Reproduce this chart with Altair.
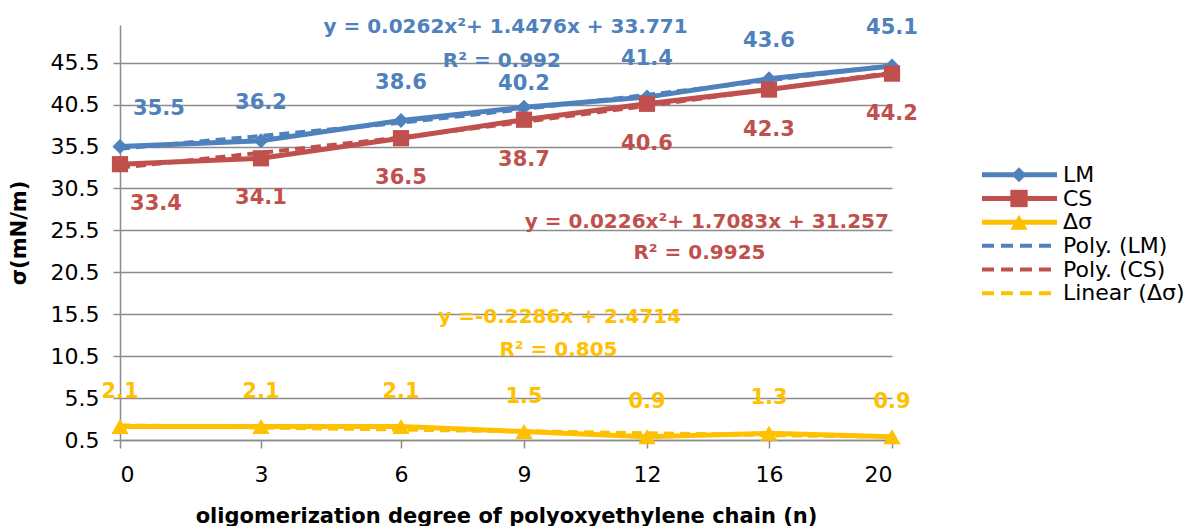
import altair as alt
import pandas as pd

# ---------------- data ----------------
categories = ["0", "3", "6", "9", "12", "16", "20"]
lm_values = [35.5, 36.2, 38.6, 40.2, 41.4, 43.6, 45.1]
cs_values = [33.4, 34.1, 36.5, 38.7, 40.6, 42.3, 44.2]
dsigma_values = [2.1, 2.1, 2.1, 1.5, 0.9, 1.3, 0.9]
series_names = ["LM", "CS", "Δσ"]
trend_names = ["Poly. (LM)", "Poly. (CS)", "Linear (Δσ)"]
equation_texts = [
    "y = 0.0262x²+ 1.4476x + 33.771", "R² = 0.992",
    "y = 0.0226x²+ 1.7083x + 31.257", "R² = 0.9925",
    "y =-0.2286x + 2.4714", "R² = 0.805",
]
equation_series = ["LM", "LM", "CS", "CS", "Δσ", "Δσ"]
y_ticks = [0.5, 5.5, 10.5, 15.5, 20.5, 25.5, 30.5, 35.5, 40.5, 45.5]

# ---------------- styles / layout ----------------
colors = ["#4F81BD", "#C0504D", "#FFC000"]
shapes = ["diamond", "square", "triangle-up"]
marker_sizes = [225, 300, 300]
grid_gray = "#8C8C8C"
FONT = "DejaVu Sans"
x_range_px = [0, 141, 281, 404, 527, 649, 772]
eq_pos_x = [2.85, 2.82, 4.49, 4.43, 3.29, 3.28]
eq_pos_y = [49.8, 45.74, 26.53, 22.83, 15.19, 11.25]

# ---------------- tables ----------------
rows = []
for name, vals in zip(series_names, [lm_values, cs_values, dsigma_values]):
    for i, (c, v) in enumerate(zip(categories, vals)):
        rows.append({"series": name, "idx": i, "cat": c, "value": v})
df = pd.DataFrame(rows)

eq_df = pd.DataFrame({"text": equation_texts, "series": equation_series,
                      "idx": eq_pos_x, "value": eq_pos_y})

label_expr = "[" + ",".join("'%s'" % c for c in categories) + "][datum.value]"

x_enc = alt.X(
    "idx:Q",
    scale=alt.Scale(domain=list(range(len(categories))), range=x_range_px, nice=False, zero=False),
    axis=alt.Axis(values=list(range(len(categories))), labelExpr=label_expr, grid=False,
                  tickSize=8, labelPadding=16, titlePadding=20),
    title="oligomerization degree of polyoxyethylene chain (n)",
)
y_enc = alt.Y(
    "value:Q",
    scale=alt.Scale(domain=[0.5, 50], nice=False, zero=False),
    axis=alt.Axis(values=y_ticks, format=".1f", grid=True, tickSize=7,
                  labelPadding=14, titlePadding=21),
    title="σ(mN/m)",
)
color_enc = alt.Color("series:N", scale=alt.Scale(domain=series_names, range=colors), legend=None)

base = alt.Chart(df)

lines = base.mark_line(strokeWidth=5).encode(x=x_enc, y=y_enc, color=color_enc, detail="series:N")

trend_poly = (
    base.transform_filter(alt.FieldOneOfPredicate(field="series", oneOf=["LM", "CS"]))
    .transform_regression("idx", "value", groupby=["series"], method="poly", order=2, extent=[0, 6])
    .mark_line(strokeWidth=4, strokeDash=[10, 6])
    .encode(x=x_enc, y=y_enc, color=color_enc, detail="series:N")
)
trend_lin = (
    base.transform_filter(alt.datum.series == "Δσ")
    .transform_regression("idx", "value", groupby=["series"], method="linear", extent=[0, 6])
    .mark_line(strokeWidth=4, strokeDash=[10, 6])
    .encode(x=x_enc, y=y_enc, color=color_enc, detail="series:N")
)

points = base.mark_point(filled=True, opacity=1).encode(
    x=x_enc, y=y_enc, color=color_enc,
    shape=alt.Shape("series:N", scale=alt.Scale(domain=series_names, range=shapes), legend=None),
    size=alt.Size("series:N", scale=alt.Scale(domain=series_names, range=marker_sizes), legend=None),
)


def value_labels(cond, dy, dx=0):
    return (
        base.transform_filter(cond)
        .mark_text(dy=dy, dx=dx, font=FONT, fontSize=21, fontWeight="bold")
        .encode(x=x_enc, y=y_enc, color=color_enc, text=alt.Text("value:Q", format=".1f"))
    )


is_lm = alt.datum.series == "LM"
is_cs = alt.datum.series == "CS"
is_ds = alt.datum.series == "Δσ"
label_layers = [
    value_labels(is_lm & (alt.datum.idx == 0), -38, 39),
    value_labels(is_lm & (alt.datum.idx == 3), -23),
    value_labels(is_lm & (alt.datum.idx != 0) & (alt.datum.idx != 3), -38),
    value_labels(is_cs & (alt.datum.idx == 0), 40, 36),
    value_labels(is_cs & (alt.datum.idx != 0), 40),
    value_labels(is_ds, -35),
]

eqs = alt.Chart(eq_df).mark_text(font=FONT, fontSize=20, fontWeight="bold").encode(
    x=x_enc, y=y_enc, color=color_enc, text="text:N"
)

main = alt.layer(lines, trend_poly, trend_lin, points, *label_layers, eqs).properties(
    width=772, height=415
)

# ---------------- legend ----------------
legend_labels = series_names + trend_names
leg_df = pd.DataFrame({
    "label": legend_labels,
    "color": colors + colors,
    "kind": ["solid"] * 3 + ["dash"] * 3,
    "shape": shapes + ["circle"] * 3,
    "size": marker_sizes + [0, 0, 0],
})
leg_y = alt.Y("label:N", scale=alt.Scale(domain=legend_labels, range=[138, 280], padding=0), axis=None)
leg_base = alt.Chart(leg_df)
leg_solid = leg_base.transform_filter(alt.datum.kind == "solid").mark_rule(strokeWidth=5).encode(
    x=alt.value(0), x2=alt.value(75), y=leg_y, color=alt.Color("color:N", scale=None)
)
leg_dash = leg_base.transform_filter(alt.datum.kind == "dash").mark_rule(
    strokeWidth=4, strokeDash=[12, 7]
).encode(x=alt.value(0), x2=alt.value(75), y=leg_y, color=alt.Color("color:N", scale=None))
leg_pts = leg_base.transform_filter(alt.datum.kind == "solid").mark_point(filled=True, opacity=1).encode(
    x=alt.value(37), y=leg_y, color=alt.Color("color:N", scale=None),
    shape=alt.Shape("shape:N", scale=None), size=alt.Size("size:Q", scale=None),
)
leg_txt = leg_base.mark_text(align="left", baseline="middle", font=FONT, fontSize=22, color="#000000").encode(
    x=alt.value(81), y=leg_y, text="label:N"
)
legend = alt.layer(leg_solid, leg_dash, leg_pts, leg_txt).properties(width=210, height=415)

chart = (
    alt.hconcat(main, legend, spacing=90, bounds="flush")
    .resolve_scale(color="independent", shape="independent", size="independent",
                   x="independent", y="independent")
    .properties(padding={"left": 0, "top": 8, "right": 0, "bottom": 0})
    .configure_view(stroke=None)
    .configure_axis(
        labelFont=FONT, labelFontSize=22, labelColor="#000000",
        titleFont=FONT, titleFontSize=21, titleFontWeight="bold", titleColor="#000000",
        domainColor=grid_gray, domainWidth=1.5, tickColor=grid_gray, tickWidth=1.5,
        gridColor=grid_gray, gridWidth=1.5, gridOpacity=1,
    )
)

chart.save("out.html", embed_options={"renderer": "svg", "actions": False})
